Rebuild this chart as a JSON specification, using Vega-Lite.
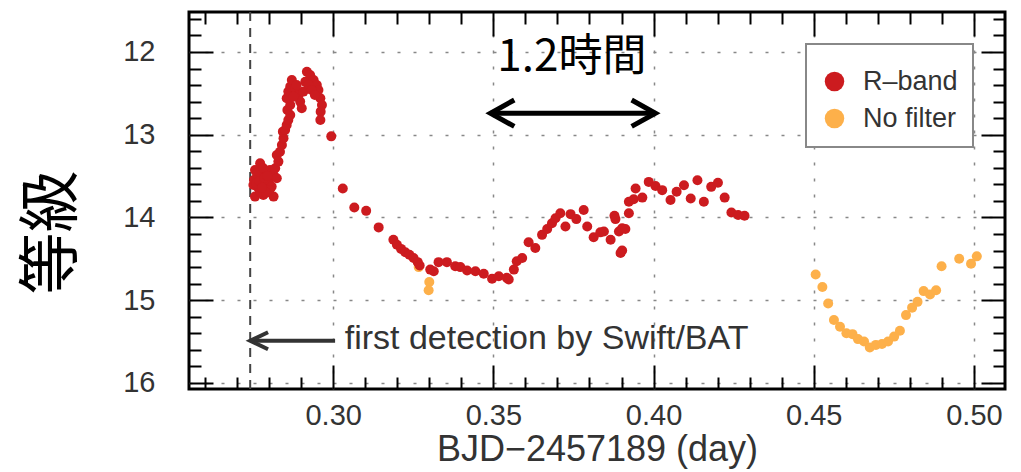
{
  "$schema": "https://vega.github.io/schema/vega-lite/v6.json",
  "width": 816,
  "height": 377,
  "autosize": "none",
  "padding": {"left": 189, "top": 12, "right": 16, "bottom": 83},
  "background": "white",
  "config": {
    "font": "Liberation Sans",
    "view": {"stroke": "black", "strokeWidth": 3},
    "legend": {
      "orient": "top-right",
      "offset": 32,
      "strokeColor": "#888",
      "strokeWidth": 2,
      "fillColor": "white",
      "padding": 15,
      "labelFontSize": 27,
      "labelColor": "#333",
      "labelOffset": 15,
      "symbolSize": 380,
      "symbolType": "circle",
      "symbolOpacity": 1,
      "symbolStrokeWidth": 0,
      "rowPadding": 9,
      "titleFontSize": 7,
      "titlePadding": 2
    }
  },
  "resolve": {"axis": {"x": "independent", "y": "independent"}},
  "layer": [
    {
      "data": {"values": [{"t": 0.2741}]},
      "mark": {"type": "rule", "color": "#444", "strokeWidth": 2, "strokeDash": [9, 7]},
      "encoding": {
        "x": {"field": "t", "type": "quantitative", "scale": {"domain": [0.255, 0.5097], "zero": false, "nice": false}, "axis": null}
      }
    },
    {
      "data": {"values": [
        {"t": 0.3267, "mag": 14.60, "band": "No filter"},
        {"t": 0.3300, "mag": 14.78, "band": "No filter"},
        {"t": 0.3298, "mag": 14.88, "band": "No filter"},
        {"t": 0.4506, "mag": 14.69, "band": "No filter"},
        {"t": 0.4527, "mag": 14.84, "band": "No filter"},
        {"t": 0.4545, "mag": 15.04, "band": "No filter"},
        {"t": 0.4563, "mag": 15.24, "band": "No filter"},
        {"t": 0.4582, "mag": 15.32, "band": "No filter"},
        {"t": 0.4602, "mag": 15.40, "band": "No filter"},
        {"t": 0.4621, "mag": 15.41, "band": "No filter"},
        {"t": 0.4638, "mag": 15.47, "band": "No filter"},
        {"t": 0.4657, "mag": 15.50, "band": "No filter"},
        {"t": 0.4675, "mag": 15.57, "band": "No filter"},
        {"t": 0.4694, "mag": 15.54, "band": "No filter"},
        {"t": 0.4713, "mag": 15.53, "band": "No filter"},
        {"t": 0.4732, "mag": 15.50, "band": "No filter"},
        {"t": 0.4751, "mag": 15.44, "band": "No filter"},
        {"t": 0.4769, "mag": 15.37, "band": "No filter"},
        {"t": 0.4788, "mag": 15.18, "band": "No filter"},
        {"t": 0.4807, "mag": 15.09, "band": "No filter"},
        {"t": 0.4824, "mag": 15.02, "band": "No filter"},
        {"t": 0.4843, "mag": 14.89, "band": "No filter"},
        {"t": 0.4863, "mag": 14.93, "band": "No filter"},
        {"t": 0.4882, "mag": 14.88, "band": "No filter"},
        {"t": 0.4899, "mag": 14.59, "band": "No filter"},
        {"t": 0.4954, "mag": 14.50, "band": "No filter"},
        {"t": 0.4991, "mag": 14.56, "band": "No filter"},
        {"t": 0.5009, "mag": 14.47, "band": "No filter"},
        {"t": 0.2756, "mag": 13.426, "band": "R–band"},
        {"t": 0.2772, "mag": 13.345, "band": "R–band"},
        {"t": 0.2762, "mag": 13.527, "band": "R–band"},
        {"t": 0.2751, "mag": 13.607, "band": "R–band"},
        {"t": 0.2767, "mag": 13.648, "band": "R–band"},
        {"t": 0.2756, "mag": 13.748, "band": "R–band"},
        {"t": 0.2782, "mag": 13.728, "band": "R–band"},
        {"t": 0.2788, "mag": 13.607, "band": "R–band"},
        {"t": 0.2777, "mag": 13.486, "band": "R–band"},
        {"t": 0.2793, "mag": 13.446, "band": "R–band"},
        {"t": 0.2803, "mag": 13.426, "band": "R–band"},
        {"t": 0.2814, "mag": 13.486, "band": "R–band"},
        {"t": 0.2798, "mag": 13.567, "band": "R–band"},
        {"t": 0.2808, "mag": 13.627, "band": "R–band"},
        {"t": 0.2824, "mag": 13.527, "band": "R–band"},
        {"t": 0.2819, "mag": 13.406, "band": "R–band"},
        {"t": 0.2829, "mag": 13.325, "band": "R–band"},
        {"t": 0.2814, "mag": 13.748, "band": "R–band"},
        {"t": 0.2772, "mag": 13.688, "band": "R–band"},
        {"t": 0.2762, "mag": 13.466, "band": "R–band"},
        {"t": 0.2782, "mag": 13.406, "band": "R–band"},
        {"t": 0.2801, "mag": 13.668, "band": "R–band"},
        {"t": 0.2791, "mag": 13.700, "band": "R–band"},
        {"t": 0.2753, "mag": 13.547, "band": "R–band"},
        {"t": 0.2760, "mag": 13.590, "band": "R–band"},
        {"t": 0.2770, "mag": 13.560, "band": "R–band"},
        {"t": 0.2785, "mag": 13.520, "band": "R–band"},
        {"t": 0.2778, "mag": 13.640, "band": "R–band"},
        {"t": 0.2795, "mag": 13.500, "band": "R–band"},
        {"t": 0.2824, "mag": 13.245, "band": "R–band"},
        {"t": 0.2834, "mag": 13.205, "band": "R–band"},
        {"t": 0.2840, "mag": 13.124, "band": "R–band"},
        {"t": 0.2845, "mag": 13.043, "band": "R–band"},
        {"t": 0.2843, "mag": 12.963, "band": "R–band"},
        {"t": 0.2850, "mag": 12.943, "band": "R–band"},
        {"t": 0.2855, "mag": 12.882, "band": "R–band"},
        {"t": 0.2860, "mag": 12.822, "band": "R–band"},
        {"t": 0.2866, "mag": 12.761, "band": "R–band"},
        {"t": 0.2857, "mag": 12.701, "band": "R–band"},
        {"t": 0.2866, "mag": 12.641, "band": "R–band"},
        {"t": 0.2855, "mag": 12.560, "band": "R–band"},
        {"t": 0.2860, "mag": 12.479, "band": "R–band"},
        {"t": 0.2866, "mag": 12.419, "band": "R–band"},
        {"t": 0.2871, "mag": 12.338, "band": "R–band"},
        {"t": 0.2881, "mag": 12.439, "band": "R–band"},
        {"t": 0.2892, "mag": 12.520, "band": "R–band"},
        {"t": 0.2897, "mag": 12.600, "band": "R–band"},
        {"t": 0.2902, "mag": 12.681, "band": "R–band"},
        {"t": 0.2907, "mag": 12.479, "band": "R–band"},
        {"t": 0.2913, "mag": 12.359, "band": "R–band"},
        {"t": 0.2918, "mag": 12.238, "band": "R–band"},
        {"t": 0.2928, "mag": 12.278, "band": "R–band"},
        {"t": 0.2939, "mag": 12.338, "band": "R–band"},
        {"t": 0.2949, "mag": 12.399, "band": "R–band"},
        {"t": 0.2954, "mag": 12.459, "band": "R–band"},
        {"t": 0.2960, "mag": 12.560, "band": "R–band"},
        {"t": 0.2965, "mag": 12.641, "band": "R–band"},
        {"t": 0.2961, "mag": 12.721, "band": "R–band"},
        {"t": 0.2960, "mag": 12.822, "band": "R–band"},
        {"t": 0.2876, "mag": 12.540, "band": "R–band"},
        {"t": 0.2886, "mag": 12.399, "band": "R–band"},
        {"t": 0.2923, "mag": 12.399, "band": "R–band"},
        {"t": 0.2933, "mag": 12.459, "band": "R–band"},
        {"t": 0.2943, "mag": 12.520, "band": "R–band"},
        {"t": 0.2994, "mag": 13.02, "band": "R–band"},
        {"t": 0.3030, "mag": 13.65, "band": "R–band"},
        {"t": 0.3066, "mag": 13.88, "band": "R–band"},
        {"t": 0.3103, "mag": 13.92, "band": "R–band"},
        {"t": 0.3142, "mag": 14.12, "band": "R–band"},
        {"t": 0.3188, "mag": 14.27, "band": "R–band"},
        {"t": 0.3199, "mag": 14.33, "band": "R–band"},
        {"t": 0.3212, "mag": 14.38, "band": "R–band"},
        {"t": 0.3225, "mag": 14.42, "band": "R–band"},
        {"t": 0.3238, "mag": 14.45, "band": "R–band"},
        {"t": 0.3251, "mag": 14.49, "band": "R–band"},
        {"t": 0.3264, "mag": 14.54, "band": "R–band"},
        {"t": 0.3270, "mag": 14.58, "band": "R–band"},
        {"t": 0.3303, "mag": 14.63, "band": "R–band"},
        {"t": 0.3314, "mag": 14.65, "band": "R–band"},
        {"t": 0.3329, "mag": 14.54, "band": "R–band"},
        {"t": 0.3355, "mag": 14.54, "band": "R–band"},
        {"t": 0.3381, "mag": 14.59, "band": "R–band"},
        {"t": 0.3397, "mag": 14.60, "band": "R–band"},
        {"t": 0.3418, "mag": 14.64, "band": "R–band"},
        {"t": 0.3444, "mag": 14.65, "band": "R–band"},
        {"t": 0.3470, "mag": 14.68, "band": "R–band"},
        {"t": 0.3496, "mag": 14.74, "band": "R–band"},
        {"t": 0.3517, "mag": 14.71, "band": "R–band"},
        {"t": 0.3542, "mag": 14.73, "band": "R–band"},
        {"t": 0.3548, "mag": 14.75, "band": "R–band"},
        {"t": 0.3564, "mag": 14.63, "band": "R–band"},
        {"t": 0.3573, "mag": 14.53, "band": "R–band"},
        {"t": 0.3590, "mag": 14.49, "band": "R–band"},
        {"t": 0.3610, "mag": 14.30, "band": "R–band"},
        {"t": 0.3631, "mag": 14.37, "band": "R–band"},
        {"t": 0.3652, "mag": 14.21, "band": "R–band"},
        {"t": 0.3668, "mag": 14.14, "band": "R–band"},
        {"t": 0.3683, "mag": 14.07, "band": "R–band"},
        {"t": 0.3694, "mag": 14.01, "band": "R–band"},
        {"t": 0.3709, "mag": 13.95, "band": "R–band"},
        {"t": 0.3725, "mag": 14.11, "band": "R–band"},
        {"t": 0.3741, "mag": 13.96, "band": "R–band"},
        {"t": 0.3759, "mag": 14.02, "band": "R–band"},
        {"t": 0.3782, "mag": 13.91, "band": "R–band"},
        {"t": 0.3793, "mag": 14.11, "band": "R–band"},
        {"t": 0.3813, "mag": 14.24, "band": "R–band"},
        {"t": 0.3834, "mag": 14.18, "band": "R–band"},
        {"t": 0.3845, "mag": 14.17, "band": "R–band"},
        {"t": 0.3866, "mag": 14.27, "band": "R–band"},
        {"t": 0.3878, "mag": 13.98, "band": "R–band"},
        {"t": 0.3881, "mag": 14.02, "band": "R–band"},
        {"t": 0.3892, "mag": 14.17, "band": "R–band"},
        {"t": 0.3902, "mag": 14.13, "band": "R–band"},
        {"t": 0.3912, "mag": 14.14, "band": "R–band"},
        {"t": 0.3902, "mag": 14.40, "band": "R–band"},
        {"t": 0.3897, "mag": 14.43, "band": "R–band"},
        {"t": 0.3923, "mag": 13.95, "band": "R–band"},
        {"t": 0.3923, "mag": 13.81, "band": "R–band"},
        {"t": 0.3938, "mag": 13.78, "band": "R–band"},
        {"t": 0.3944, "mag": 13.65, "band": "R–band"},
        {"t": 0.3965, "mag": 13.76, "band": "R–band"},
        {"t": 0.3985, "mag": 13.57, "band": "R–band"},
        {"t": 0.4006, "mag": 13.62, "band": "R–band"},
        {"t": 0.4027, "mag": 13.67, "band": "R–band"},
        {"t": 0.4053, "mag": 13.79, "band": "R–band"},
        {"t": 0.4072, "mag": 13.69, "band": "R–band"},
        {"t": 0.4095, "mag": 13.61, "band": "R–band"},
        {"t": 0.4116, "mag": 13.77, "band": "R–band"},
        {"t": 0.4137, "mag": 13.55, "band": "R–band"},
        {"t": 0.4157, "mag": 13.81, "band": "R–band"},
        {"t": 0.4180, "mag": 13.63, "band": "R–band"},
        {"t": 0.4201, "mag": 13.58, "band": "R–band"},
        {"t": 0.4222, "mag": 13.76, "band": "R–band"},
        {"t": 0.4243, "mag": 13.94, "band": "R–band"},
        {"t": 0.4264, "mag": 13.97, "band": "R–band"},
        {"t": 0.4284, "mag": 13.98, "band": "R–band"}
      ]},
      "mark": {"type": "point", "filled": true, "size": 100, "opacity": 1, "strokeWidth": 0},
      "encoding": {
        "x": {"field": "t", "type": "quantitative", "scale": {"domain": [0.255, 0.5097], "zero": false, "nice": false},
          "axis": {"orient": "bottom", "values": [0.3, 0.35, 0.4, 0.45, 0.5], "format": ".2f", "labels": true, "labelFontSize": 29, "labelColor": "#333", "labelPadding": 12, "ticks": false, "tickSize": 0, "domain": false, "grid": true, "gridColor": "#888", "gridDash": [3, 13], "gridWidth": 1.5, "title": "BJD−2457189 (day)", "titleFontSize": 36, "titleFontWeight": "normal", "titleColor": "#333", "titlePadding": 2}},
        "y": {"field": "mag", "type": "quantitative", "scale": {"domain": [11.517, 16.073], "reverse": true, "zero": false, "nice": false},
          "axis": {"orient": "left", "values": [12, 13, 14, 15, 16], "labels": true, "labelFontSize": 29, "labelColor": "#333", "labelPadding": 34, "ticks": false, "tickSize": 0, "domain": false, "grid": true, "gridColor": "#888", "gridDash": [3, 13], "gridWidth": 1.5, "title": "等級", "titleFont": "Noto Sans CJK JP", "titleFontSize": 62, "titleFontWeight": "normal", "titleColor": "black", "titlePadding": 38, "titleY": 220}},
        "color": {"field": "band", "type": "nominal", "scale": {"domain": ["R–band", "No filter"], "range": ["#cc1b1f", "#fdb04a"]}, "legend": {"title": " "}},
        "order": {"field": "band", "sort": "ascending"}
      }
    },
    {
      "data": {"values": [{"t": 0.3491, "t2": 0.4006, "mag": 12.74}]},
      "mark": {"type": "rule", "color": "black", "strokeWidth": 5},
      "encoding": {
        "x": {"field": "t", "type": "quantitative", "scale": {"domain": [0.255, 0.5097], "zero": false, "nice": false},
          "axis": {"orient": "bottom", "values": [0.3, 0.35, 0.4, 0.45, 0.5], "labels": false, "ticks": true, "tickSize": -24, "tickWidth": 2, "tickColor": "black", "domain": false, "grid": false, "title": null}},
        "x2": {"field": "t2"},
        "y": {"field": "mag", "type": "quantitative", "scale": {"domain": [11.517, 16.073], "reverse": true, "zero": false, "nice": false},
          "axis": {"orient": "left", "values": [12, 13, 14, 15, 16], "labels": false, "ticks": true, "tickSize": -24, "tickWidth": 2, "tickColor": "black", "domain": false, "grid": false, "title": null}}
      }
    },
    {
      "data": {"values": [{"t": 0.3491, "mag": 12.74}]},
      "mark": {"type": "point", "shape": "M 1.8 -1 L 0 0 L 1.8 1", "filled": false, "size": 700, "stroke": "black", "strokeWidth": 5, "opacity": 1},
      "encoding": {
        "x": {"field": "t", "type": "quantitative", "scale": {"domain": [0.255, 0.5097], "zero": false, "nice": false},
          "axis": {"orient": "top", "values": [0.3, 0.35, 0.4, 0.45, 0.5], "labels": false, "ticks": true, "tickSize": -24, "tickWidth": 2, "tickColor": "black", "domain": false, "grid": false, "title": null}},
        "y": {"field": "mag", "type": "quantitative", "scale": {"domain": [11.517, 16.073], "reverse": true, "zero": false, "nice": false},
          "axis": {"orient": "right", "values": [12, 13, 14, 15, 16], "labels": false, "ticks": true, "tickSize": -24, "tickWidth": 2, "tickColor": "black", "domain": false, "grid": false, "title": null}}
      }
    },
    {
      "data": {"values": [{"t": 0.4006, "mag": 12.74}]},
      "mark": {"type": "point", "shape": "M -1.8 -1 L 0 0 L -1.8 1", "filled": false, "size": 700, "stroke": "black", "strokeWidth": 5, "opacity": 1},
      "encoding": {
        "x": {"field": "t", "type": "quantitative", "scale": {"domain": [0.255, 0.5097], "zero": false, "nice": false},
          "axis": {"orient": "bottom", "values": [0.26, 0.27, 0.28, 0.29, 0.31, 0.32, 0.33, 0.34, 0.36, 0.37, 0.38, 0.39, 0.41, 0.42, 0.43, 0.44, 0.46, 0.47, 0.48, 0.49], "labels": false, "ticks": true, "tickSize": -12, "tickWidth": 2, "tickColor": "black", "domain": false, "grid": false, "title": null}},
        "y": {"field": "mag", "type": "quantitative", "scale": {"domain": [11.517, 16.073], "reverse": true, "zero": false, "nice": false},
          "axis": {"orient": "left", "values": [11.6, 11.8, 12.2, 12.4, 12.6, 12.8, 13.2, 13.4, 13.6, 13.8, 14.2, 14.4, 14.6, 14.8, 15.2, 15.4, 15.6, 15.8], "labels": false, "ticks": true, "tickSize": -12, "tickWidth": 2, "tickColor": "black", "domain": false, "grid": false, "title": null}}
      }
    },
    {
      "data": {"values": [{"t": 0.2741, "t2": 0.3006, "mag": 15.49}]},
      "mark": {"type": "rule", "color": "#333", "strokeWidth": 4},
      "encoding": {
        "x": {"field": "t", "type": "quantitative", "scale": {"domain": [0.255, 0.5097], "zero": false, "nice": false},
          "axis": {"orient": "top", "values": [0.26, 0.27, 0.28, 0.29, 0.31, 0.32, 0.33, 0.34, 0.36, 0.37, 0.38, 0.39, 0.41, 0.42, 0.43, 0.44, 0.46, 0.47, 0.48, 0.49], "labels": false, "ticks": true, "tickSize": -12, "tickWidth": 2, "tickColor": "black", "domain": false, "grid": false, "title": null}},
        "x2": {"field": "t2"},
        "y": {"field": "mag", "type": "quantitative", "scale": {"domain": [11.517, 16.073], "reverse": true, "zero": false, "nice": false},
          "axis": {"orient": "right", "values": [11.6, 11.8, 12.2, 12.4, 12.6, 12.8, 13.2, 13.4, 13.6, 13.8, 14.2, 14.4, 14.6, 14.8, 15.2, 15.4, 15.6, 15.8], "labels": false, "ticks": true, "tickSize": -12, "tickWidth": 2, "tickColor": "black", "domain": false, "grid": false, "title": null}}
      }
    },
    {
      "data": {"values": [{"t": 0.2741, "mag": 15.49}]},
      "mark": {"type": "point", "shape": "M 2.1 -1 L 0 0 L 2.1 1", "filled": false, "size": 289, "stroke": "#333", "strokeWidth": 4, "opacity": 1},
      "encoding": {
        "x": {"field": "t", "type": "quantitative", "scale": {"domain": [0.255, 0.5097], "zero": false, "nice": false}, "axis": null},
        "y": {"field": "mag", "type": "quantitative", "scale": {"domain": [11.517, 16.073], "reverse": true, "zero": false, "nice": false}, "axis": null}
      }
    },
    {
      "data": {"values": [{"t": 0.3745, "mag": 12.07, "label": "1.2時間"}]},
      "mark": {"type": "text", "font": "Noto Sans CJK JP", "fontSize": 44, "color": "black", "align": "center", "baseline": "middle"},
      "encoding": {
        "x": {"field": "t", "type": "quantitative", "scale": {"domain": [0.255, 0.5097], "zero": false, "nice": false}, "axis": null},
        "y": {"field": "mag", "type": "quantitative", "scale": {"domain": [11.517, 16.073], "reverse": true, "zero": false, "nice": false}, "axis": null},
        "text": {"field": "label"}
      }
    },
    {
      "data": {"values": [{"t": 0.3036, "mag": 15.47, "label": "first detection by Swift/BAT"}]},
      "mark": {"type": "text", "fontSize": 34, "color": "#333", "align": "left", "baseline": "middle"},
      "encoding": {
        "x": {"field": "t", "type": "quantitative", "scale": {"domain": [0.255, 0.5097], "zero": false, "nice": false}, "axis": null},
        "y": {"field": "mag", "type": "quantitative", "scale": {"domain": [11.517, 16.073], "reverse": true, "zero": false, "nice": false}, "axis": null},
        "text": {"field": "label"}
      }
    }
  ]
}
